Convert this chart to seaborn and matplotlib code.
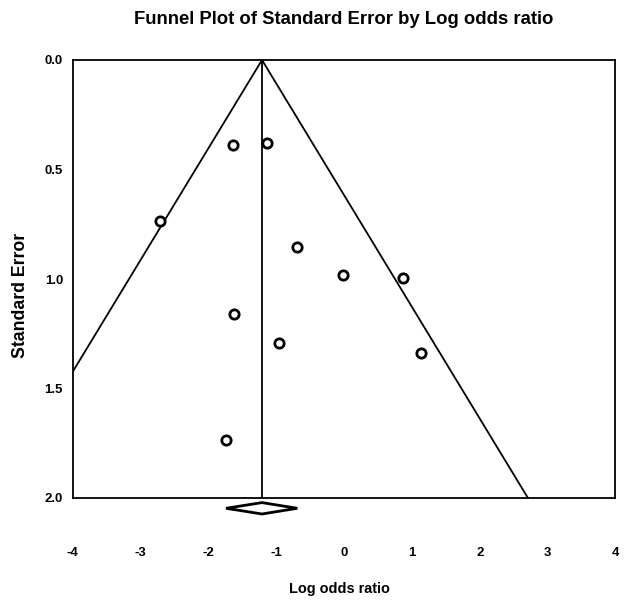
import numpy as np
import pandas as pd
import matplotlib
matplotlib.use("Agg")
import matplotlib.pyplot as plt
from matplotlib import font_manager
import seaborn as sns

# Study data
log_odds = [-1.64, -1.14, -2.71, -0.69, -0.01, 0.87, -1.62, -0.96, 1.14, -1.74]
std_err = [0.388, 0.380, 0.735, 0.852, 0.982, 0.994, 1.16, 1.294, 1.339, 1.735]
pooled = -1.21
ci_low = -1.74
ci_high = -0.69
x_ticks = [-4, -3, -2, -1, 0, 1, 2, 3, 4]
y_ticks = [0.0, 0.5, 1.0, 1.5, 2.0]

sns.set_theme(style="white")
names = {f.name for f in font_manager.fontManager.ttflist}
has_narrow = "Liberation Sans Narrow" in names
narrow = "Liberation Sans Narrow" if has_narrow else "Liberation Sans"
k = 1.0 if has_narrow else 0.82
plt.rcParams['font.family'] = ['Liberation Sans', 'DejaVu Sans']
plt.rcParams['text.color'] = 'black'
plt.rcParams['axes.labelcolor'] = 'black'
plt.rcParams['xtick.color'] = 'black'
plt.rcParams['ytick.color'] = 'black'

df = pd.DataFrame({"Log odds ratio": log_odds, "Standard Error": std_err})

fig = plt.figure(figsize=(6.28, 6.0), dpi=100)
ax = fig.add_axes([72.7 / 628, 1 - 498 / 600, (615.5 - 72.7) / 628, (498 - 60) / 600])

# funnel lines
se_line = np.array([0.0, 2.0])
ax.plot(pooled - 1.96 * se_line, se_line, color="black", lw=1.3)
ax.plot(pooled + 1.96 * se_line, se_line, color="black", lw=1.3)
ax.plot([pooled, pooled], [0, 2.0], color="black", lw=1.3)

sns.scatterplot(data=df, x="Log odds ratio", y="Standard Error", ax=ax,
                marker="o", s=45, facecolor="white", edgecolor="black",
                linewidth=2.0, zorder=5)

ax.set_xlim(-4, 4)
ax.set_ylim(2.0, 0.0)
ax.set_xticks(x_ticks)
ax.set_yticks(y_ticks)
tick_font = dict(family=[narrow, 'DejaVu Sans'], weight="bold", size=11.5 * k)
ax.set_xticklabels([str(t) for t in x_ticks], fontdict=tick_font)
ax.set_yticklabels([f"{t:.1f}" for t in y_ticks], fontdict=tick_font)
ax.tick_params(axis="x", length=0, pad=35)
ax.tick_params(axis="y", length=0, pad=7)
for sp in ax.spines.values():
    sp.set_color("black")
    sp.set_linewidth(1.3)

# diamond for pooled estimate (below axis)
yc = 2.047
dy = 0.026
ax.fill([ci_low, pooled, ci_high, pooled, ci_low],
        [yc, yc - dy, yc, yc + dy, yc],
        facecolor="white", edgecolor="black", lw=2.0, clip_on=False, zorder=6)

ax.set_xlabel("Log odds ratio", family=[narrow, 'DejaVu Sans'], fontweight="bold",
              fontsize=12.7 * k)
ax.xaxis.set_label_coords((339 - 72.7) / 542.8, -(582 - 498) / 438)
ax.set_ylabel("Standard Error", fontweight="bold", fontsize=12.7)
ax.yaxis.set_label_coords(-(72.7 - 29) / 542.8, (498 - 295) / 438)
fig.text(344 / 628, 1 - 19 / 600, "Funnel Plot of Standard Error by Log odds ratio",
         ha="center", va="center", fontweight="bold", fontsize=16.2 * k,
         family=[narrow, 'DejaVu Sans'])

fig.savefig("out.png", dpi=100, facecolor="white")
